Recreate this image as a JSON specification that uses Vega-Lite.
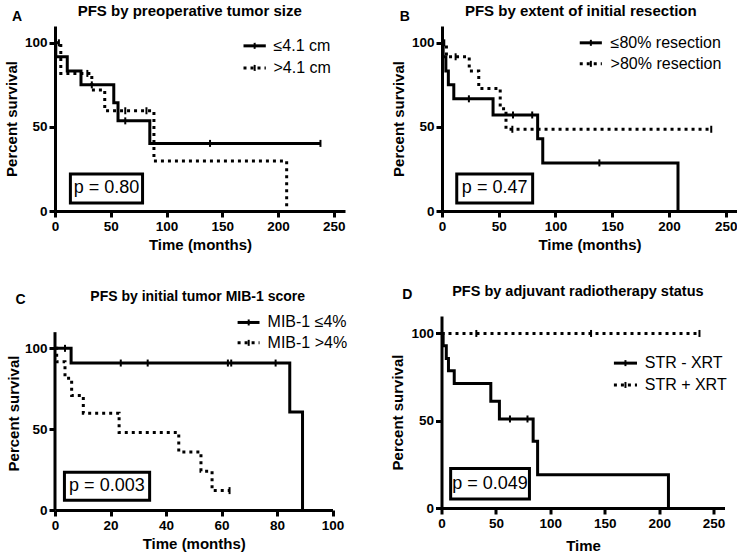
{
  "$schema": "https://vega.github.io/schema/vega-lite/v6.json",
  "padding": {"left": 4, "top": 3, "right": 0, "bottom": 0},
  "background": "white",
  "config": {
    "view": {"stroke": null},
    "axis": {"domainColor": "black", "domainWidth": 3, "tickColor": "black", "tickWidth": 3, "tickSize": 6, "labelFont": "Liberation Sans", "labelFontSize": 13.5, "labelFontWeight": "bold", "labelColor": "black", "labelPadding": 2, "titleFont": "Liberation Sans", "titleFontSize": 15, "titleFontWeight": "bold", "titleColor": "black", "titlePadding": 5, "grid": false, "labelFlush": false, "labelOverlap": false},
    "text": {"font": "Liberation Sans", "color": "black"}
  },
  "datasets": {
    "A_curves": [
      {"g": "≤4.1 cm", "t": 0, "s": 100}, {"g": "≤4.1 cm", "t": 0.7, "s": 91.7}, {"g": "≤4.1 cm", "t": 11, "s": 83.3}, {"g": "≤4.1 cm", "t": 23.3, "s": 75}, {"g": "≤4.1 cm", "t": 52.7, "s": 64.3}, {"g": "≤4.1 cm", "t": 56.5, "s": 53.6}, {"g": "≤4.1 cm", "t": 85, "s": 40.2}, {"g": "≤4.1 cm", "t": 238, "s": 40.2},
      {"g": ">4.1 cm", "t": 0, "s": 100}, {"g": ">4.1 cm", "t": 5.2, "s": 81.8}, {"g": ">4.1 cm", "t": 33, "s": 72}, {"g": ">4.1 cm", "t": 44.6, "s": 59.6}, {"g": ">4.1 cm", "t": 88.7, "s": 29.8}, {"g": ">4.1 cm", "t": 207.7, "s": 0}
    ],
    "A_cens": [
      {"g": "≤4.1 cm", "t": 33, "s": 75}, {"g": "≤4.1 cm", "t": 63, "s": 53.6}, {"g": "≤4.1 cm", "t": 139, "s": 40.2}, {"g": "≤4.1 cm", "t": 238, "s": 40.2},
      {"g": ">4.1 cm", "t": 3.5, "s": 100}, {"g": ">4.1 cm", "t": 29, "s": 81.8}, {"g": ">4.1 cm", "t": 63, "s": 59.6}, {"g": ">4.1 cm", "t": 82, "s": 59.6}
    ],
    "B_curves": [
      {"g": "≤80% resection", "t": 0, "s": 100}, {"g": "≤80% resection", "t": 1, "s": 91.7}, {"g": "≤80% resection", "t": 3.4, "s": 83.3}, {"g": "≤80% resection", "t": 5.6, "s": 75}, {"g": "≤80% resection", "t": 10.4, "s": 66.7}, {"g": "≤80% resection", "t": 45, "s": 57.1}, {"g": "≤80% resection", "t": 84.3, "s": 42.9}, {"g": "≤80% resection", "t": 88.8, "s": 28.6}, {"g": "≤80% resection", "t": 208, "s": 0},
      {"g": ">80% resection", "t": 0, "s": 100}, {"g": ">80% resection", "t": 3.9, "s": 91.7}, {"g": ">80% resection", "t": 24, "s": 83.3}, {"g": ">80% resection", "t": 32.4, "s": 72.9}, {"g": ">80% resection", "t": 51.3, "s": 60.8}, {"g": ">80% resection", "t": 56.4, "s": 48.6}, {"g": ">80% resection", "t": 237.3, "s": 48.6}
    ],
    "B_cens": [
      {"g": "≤80% resection", "t": 23.7, "s": 66.7}, {"g": "≤80% resection", "t": 62.6, "s": 57.1}, {"g": "≤80% resection", "t": 79.5, "s": 57.1}, {"g": "≤80% resection", "t": 138.7, "s": 28.6},
      {"g": ">80% resection", "t": 2, "s": 100}, {"g": ">80% resection", "t": 12, "s": 91.7}, {"g": ">80% resection", "t": 62, "s": 48.6}, {"g": ">80% resection", "t": 237.3, "s": 48.6}
    ],
    "C_curves": [
      {"g": "MIB-1 ≤4%", "t": 0, "s": 100}, {"g": "MIB-1 ≤4%", "t": 5.8, "s": 90.9}, {"g": "MIB-1 ≤4%", "t": 84.6, "s": 60.6}, {"g": "MIB-1 ≤4%", "t": 89.2, "s": 0},
      {"g": "MIB-1 >4%", "t": 0, "s": 100}, {"g": "MIB-1 >4%", "t": 0.6, "s": 91.7}, {"g": "MIB-1 >4%", "t": 3.6, "s": 81.5}, {"g": "MIB-1 >4%", "t": 6, "s": 70.8}, {"g": "MIB-1 >4%", "t": 10.2, "s": 59.9}, {"g": "MIB-1 >4%", "t": 23.1, "s": 47.9}, {"g": "MIB-1 >4%", "t": 44.6, "s": 35.9}, {"g": "MIB-1 >4%", "t": 52.6, "s": 24}, {"g": "MIB-1 >4%", "t": 56.6, "s": 12}, {"g": "MIB-1 >4%", "t": 62.9, "s": 12}
    ],
    "C_cens": [
      {"g": "MIB-1 ≤4%", "t": 3.6, "s": 100}, {"g": "MIB-1 ≤4%", "t": 23.7, "s": 90.9}, {"g": "MIB-1 ≤4%", "t": 33.4, "s": 90.9}, {"g": "MIB-1 ≤4%", "t": 62.3, "s": 90.9}, {"g": "MIB-1 ≤4%", "t": 63.5, "s": 90.9}, {"g": "MIB-1 ≤4%", "t": 79.5, "s": 90.9},
      {"g": "MIB-1 >4%", "t": 62.9, "s": 12}
    ],
    "D_curves": [
      {"g": "STR - XRT", "t": 0, "s": 100}, {"g": "STR - XRT", "t": 1.5, "s": 92.9}, {"g": "STR - XRT", "t": 4.4, "s": 85.7}, {"g": "STR - XRT", "t": 6.4, "s": 78.6}, {"g": "STR - XRT", "t": 11.7, "s": 71.4}, {"g": "STR - XRT", "t": 45.3, "s": 61.2}, {"g": "STR - XRT", "t": 53.2, "s": 51}, {"g": "STR - XRT", "t": 84.2, "s": 38.3}, {"g": "STR - XRT", "t": 88.3, "s": 19.1}, {"g": "STR - XRT", "t": 208.5, "s": 0},
      {"g": "STR + XRT", "t": 0, "s": 100}, {"g": "STR + XRT", "t": 237, "s": 100}
    ],
    "D_cens": [
      {"g": "STR - XRT", "t": 62.9, "s": 51}, {"g": "STR - XRT", "t": 79, "s": 51},
      {"g": "STR + XRT", "t": 32, "s": 100}, {"g": "STR + XRT", "t": 137.4, "s": 100}, {"g": "STR + XRT", "t": 237, "s": 100}
    ]
  },
  "spacing": 30,
  "vconcat": [
    {
      "spacing": 97,
      "bounds": "flush",
      "hconcat": [
        {
          "width": 290, "height": 185,
          "data": {"values": [{}]},
          "layer": [
            {"data": {"name": "A_curves"}, "transform": [{"filter": "datum.g == '≤4.1 cm'"}], "mark": {"type": "line", "interpolate": "step-after", "color": "black", "strokeWidth": 3},
             "encoding": {"x": {"field": "t", "type": "quantitative", "scale": {"domain": [0, 250]}, "axis": {"title": "Time (months)", "values": [0, 50, 100, 150, 200, 250]}}, "y": {"field": "s", "type": "quantitative", "scale": {"domain": [0, 110]}, "axis": {"title": "Percent survival", "values": [0, 50, 100]}}}},
            {"data": {"name": "A_curves"}, "transform": [{"filter": "datum.g == '>4.1 cm'"}], "mark": {"type": "line", "interpolate": "step-after", "color": "black", "strokeWidth": 3, "strokeDash": [3, 4]},
             "encoding": {"x": {"field": "t", "type": "quantitative"}, "y": {"field": "s", "type": "quantitative"}}},
            {"data": {"name": "A_cens"}, "mark": {"type": "tick", "orient": "vertical", "color": "black", "size": 7, "thickness": 2, "opacity": 1},
             "encoding": {"x": {"field": "t", "type": "quantitative"}, "y": {"field": "s", "type": "quantitative"}}},
            {"mark": {"type": "rule", "color": "black", "strokeWidth": 3}, "encoding": {"x": {"datum": 169}, "x2": {"datum": 189}, "y": {"datum": 98.2}}},
            {"mark": {"type": "rule", "color": "black", "strokeWidth": 3, "strokeDash": [3, 4]}, "encoding": {"x": {"datum": 169}, "x2": {"datum": 189}, "y": {"datum": 85.1}}},
            {"mark": {"type": "tick", "orient": "vertical", "color": "black", "size": 6, "thickness": 2, "opacity": 1}, "encoding": {"x": {"datum": 179}, "y": {"datum": 98.2}}},
            {"mark": {"type": "tick", "orient": "vertical", "color": "black", "size": 6, "thickness": 2, "opacity": 1}, "encoding": {"x": {"datum": 179}, "y": {"datum": 85.1}}},
            {"mark": {"type": "text", "text": "≤4.1 cm", "fontSize": 16, "align": "left", "baseline": "middle"}, "encoding": {"x": {"datum": 195.9}, "y": {"datum": 98.2}}},
            {"mark": {"type": "text", "text": ">4.1 cm", "fontSize": 16, "align": "left", "baseline": "middle"}, "encoding": {"x": {"datum": 195.9}, "y": {"datum": 85.1}}},
            {"mark": {"type": "rect", "fill": null, "fillOpacity": 0, "stroke": "black", "strokeWidth": 3}, "encoding": {"x": {"datum": 13.8}, "x2": {"datum": 78.5}, "y": {"datum": 4.8}, "y2": {"datum": 22}}},
            {"mark": {"type": "text", "text": "p = 0.80", "fontSize": 18, "align": "center", "baseline": "middle"}, "encoding": {"x": {"datum": 46.2}, "y": {"datum": 13.4}}},
            {"mark": {"type": "text", "text": "A", "fontSize": 14, "fontWeight": "bold", "align": "center", "baseline": "middle"}, "encoding": {"x": {"datum": -34.1}, "y": {"datum": 115.5}}},
            {"mark": {"type": "text", "text": "PFS by preoperative tumor size", "fontSize": 15, "fontWeight": "bold", "align": "center", "baseline": "middle"}, "encoding": {"x": {"datum": 120.8}, "y": {"datum": 119}}}
          ]
        },
        {
          "width": 295, "height": 185,
          "data": {"values": [{}]},
          "layer": [
            {"data": {"name": "B_curves"}, "transform": [{"filter": "datum.g == '≤80% resection'"}], "mark": {"type": "line", "interpolate": "step-after", "color": "black", "strokeWidth": 3},
             "encoding": {"x": {"field": "t", "type": "quantitative", "scale": {"domain": [0, 250]}, "axis": {"title": "Time (months)", "values": [0, 50, 100, 150, 200, 250]}}, "y": {"field": "s", "type": "quantitative", "scale": {"domain": [0, 110]}, "axis": {"title": "Percent survival", "values": [0, 50, 100]}}}},
            {"data": {"name": "B_curves"}, "transform": [{"filter": "datum.g == '>80% resection'"}], "mark": {"type": "line", "interpolate": "step-after", "color": "black", "strokeWidth": 3, "strokeDash": [3, 4]},
             "encoding": {"x": {"field": "t", "type": "quantitative"}, "y": {"field": "s", "type": "quantitative"}}},
            {"data": {"name": "B_cens"}, "mark": {"type": "tick", "orient": "vertical", "color": "black", "size": 7, "thickness": 2, "opacity": 1},
             "encoding": {"x": {"field": "t", "type": "quantitative"}, "y": {"field": "s", "type": "quantitative"}}},
            {"mark": {"type": "rule", "color": "black", "strokeWidth": 3}, "encoding": {"x": {"datum": 121.4}, "x2": {"datum": 140.9}, "y": {"datum": 100}}},
            {"mark": {"type": "rule", "color": "black", "strokeWidth": 3, "strokeDash": [3, 4]}, "encoding": {"x": {"datum": 121.4}, "x2": {"datum": 140.9}, "y": {"datum": 87.5}}},
            {"mark": {"type": "tick", "orient": "vertical", "color": "black", "size": 6, "thickness": 2, "opacity": 1}, "encoding": {"x": {"datum": 131.2}, "y": {"datum": 100}}},
            {"mark": {"type": "tick", "orient": "vertical", "color": "black", "size": 6, "thickness": 2, "opacity": 1}, "encoding": {"x": {"datum": 131.2}, "y": {"datum": 87.5}}},
            {"mark": {"type": "text", "text": "≤80% resection", "fontSize": 16, "align": "left", "baseline": "middle"}, "encoding": {"x": {"datum": 148.6}, "y": {"datum": 100}}},
            {"mark": {"type": "text", "text": ">80% resection", "fontSize": 16, "align": "left", "baseline": "middle"}, "encoding": {"x": {"datum": 148.6}, "y": {"datum": 87.5}}},
            {"mark": {"type": "rect", "fill": null, "fillOpacity": 0, "stroke": "black", "strokeWidth": 3}, "encoding": {"x": {"datum": 13}, "x2": {"datum": 79.9}, "y": {"datum": 4.8}, "y2": {"datum": 22}}},
            {"mark": {"type": "text", "text": "p = 0.47", "fontSize": 18, "align": "center", "baseline": "middle"}, "encoding": {"x": {"datum": 46.4}, "y": {"datum": 13.4}}},
            {"mark": {"type": "text", "text": "B", "fontSize": 14, "fontWeight": "bold", "align": "center", "baseline": "middle"}, "encoding": {"x": {"datum": -32.8}, "y": {"datum": 115.2}}},
            {"mark": {"type": "text", "text": "PFS by extent of initial resection", "fontSize": 15, "fontWeight": "bold", "align": "center", "baseline": "middle"}, "encoding": {"x": {"datum": 122.3}, "y": {"datum": 119}}}
          ]
        }
      ]
    },
    {
      "spacing": 108.5,
      "bounds": "flush",
      "hconcat": [
        {
          "width": 277.5, "height": 194,
          "data": {"values": [{}]},
          "layer": [
            {"data": {"name": "C_curves"}, "transform": [{"filter": "datum.g == 'MIB-1 ≤4%'"}], "mark": {"type": "line", "interpolate": "step-after", "color": "black", "strokeWidth": 3},
             "encoding": {"x": {"field": "t", "type": "quantitative", "scale": {"domain": [0, 100]}, "axis": {"title": "Time (months)", "values": [0, 20, 40, 60, 80, 100]}}, "y": {"field": "s", "type": "quantitative", "scale": {"domain": [0, 116]}, "axis": {"title": "Percent survival", "titlePadding": 3, "values": [0, 50, 100], "domain": false}}}},
            {"data": {"name": "C_curves"}, "transform": [{"filter": "datum.g == 'MIB-1 >4%'"}], "mark": {"type": "line", "interpolate": "step-after", "color": "black", "strokeWidth": 3, "strokeDash": [3, 4]},
             "encoding": {"x": {"field": "t", "type": "quantitative"}, "y": {"field": "s", "type": "quantitative"}}},
            {"data": {"name": "C_cens"}, "mark": {"type": "tick", "orient": "vertical", "color": "black", "size": 7, "thickness": 2, "opacity": 1},
             "encoding": {"x": {"field": "t", "type": "quantitative"}, "y": {"field": "s", "type": "quantitative"}}},
            {"mark": {"type": "rule", "color": "black", "strokeWidth": 3}, "encoding": {"x": {"datum": 0}, "y": {"datum": 0}, "y2": {"datum": 110}}},
            {"mark": {"type": "rule", "color": "black", "strokeWidth": 3}, "encoding": {"x": {"datum": 65.8}, "x2": {"datum": 73.7}, "y": {"datum": 116}}},
            {"mark": {"type": "rule", "color": "black", "strokeWidth": 3, "strokeDash": [3, 4]}, "encoding": {"x": {"datum": 65.8}, "x2": {"datum": 73.7}, "y": {"datum": 103.4}}},
            {"mark": {"type": "tick", "orient": "vertical", "color": "black", "size": 6, "thickness": 2, "opacity": 1}, "encoding": {"x": {"datum": 69.8}, "y": {"datum": 116}}},
            {"mark": {"type": "tick", "orient": "vertical", "color": "black", "size": 6, "thickness": 2, "opacity": 1}, "encoding": {"x": {"datum": 69.8}, "y": {"datum": 103.4}}},
            {"mark": {"type": "text", "text": "MIB-1 ≤4%", "fontSize": 16, "align": "left", "baseline": "middle"}, "encoding": {"x": {"datum": 76.6}, "y": {"datum": 116}}},
            {"mark": {"type": "text", "text": "MIB-1 >4%", "fontSize": 16, "align": "left", "baseline": "middle"}, "encoding": {"x": {"datum": 76.6}, "y": {"datum": 103.4}}},
            {"mark": {"type": "rect", "fill": null, "fillOpacity": 0, "stroke": "black", "strokeWidth": 3}, "encoding": {"x": {"datum": 3.4}, "x2": {"datum": 34.1}, "y": {"datum": 6}, "y2": {"datum": 23.3}}},
            {"mark": {"type": "text", "text": "p = 0.003", "fontSize": 18, "align": "center", "baseline": "middle"}, "encoding": {"x": {"datum": 18.7}, "y": {"datum": 14.6}}},
            {"mark": {"type": "text", "text": "C", "fontSize": 14, "fontWeight": "bold", "align": "center", "baseline": "middle"}, "encoding": {"x": {"datum": -12.4}, "y": {"datum": 130}}},
            {"mark": {"type": "text", "text": "PFS by initial tumor MIB-1 score", "fontSize": 14, "fontWeight": "bold", "align": "center", "baseline": "middle"}, "encoding": {"x": {"datum": 51.4}, "y": {"datum": 131.5}}}
          ]
        },
        {
          "width": 283, "height": 192,
          "data": {"values": [{}]},
          "layer": [
            {"data": {"name": "D_curves"}, "transform": [{"filter": "datum.g == 'STR - XRT'"}], "mark": {"type": "line", "interpolate": "step-after", "color": "black", "strokeWidth": 3},
             "encoding": {"x": {"field": "t", "type": "quantitative", "scale": {"domain": [0, 250]}, "axis": {"title": "Time", "titlePadding": 9, "values": [0, 50, 100, 150, 200, 250]}}, "y": {"field": "s", "type": "quantitative", "scale": {"domain": [0, 109]}, "axis": {"title": "Percent survival", "values": [0, 50, 100]}}}},
            {"data": {"name": "D_curves"}, "transform": [{"filter": "datum.g == 'STR + XRT'"}], "mark": {"type": "line", "interpolate": "step-after", "color": "black", "strokeWidth": 3, "strokeDash": [3, 4]},
             "encoding": {"x": {"field": "t", "type": "quantitative"}, "y": {"field": "s", "type": "quantitative"}}},
            {"data": {"name": "D_cens"}, "mark": {"type": "tick", "orient": "vertical", "color": "black", "size": 7, "thickness": 2, "opacity": 1},
             "encoding": {"x": {"field": "t", "type": "quantitative"}, "y": {"field": "s", "type": "quantitative"}}},
            {"mark": {"type": "rule", "color": "black", "strokeWidth": 3}, "encoding": {"x": {"datum": 158.4}, "x2": {"datum": 179.6}, "y": {"datum": 83}}},
            {"mark": {"type": "rule", "color": "black", "strokeWidth": 3, "strokeDash": [3, 4]}, "encoding": {"x": {"datum": 158.4}, "x2": {"datum": 179.6}, "y": {"datum": 70.5}}},
            {"mark": {"type": "tick", "orient": "vertical", "color": "black", "size": 6, "thickness": 2, "opacity": 1}, "encoding": {"x": {"datum": 169}, "y": {"datum": 83}}},
            {"mark": {"type": "tick", "orient": "vertical", "color": "black", "size": 6, "thickness": 2, "opacity": 1}, "encoding": {"x": {"datum": 169}, "y": {"datum": 70.5}}},
            {"mark": {"type": "text", "text": "STR - XRT", "fontSize": 16, "align": "left", "baseline": "middle"}, "encoding": {"x": {"datum": 186.7}, "y": {"datum": 83}}},
            {"mark": {"type": "text", "text": "STR + XRT", "fontSize": 16, "align": "left", "baseline": "middle"}, "encoding": {"x": {"datum": 186.7}, "y": {"datum": 70.5}}},
            {"mark": {"type": "rect", "fill": null, "fillOpacity": 0, "stroke": "black", "strokeWidth": 3}, "encoding": {"x": {"datum": 8.4}, "x2": {"datum": 80.8}, "y": {"datum": 5.1}, "y2": {"datum": 22.7}}},
            {"mark": {"type": "text", "text": "p = 0.049", "fontSize": 18, "align": "center", "baseline": "middle"}, "encoding": {"x": {"datum": 44.6}, "y": {"datum": 13.9}}},
            {"mark": {"type": "text", "text": "D", "fontSize": 14, "fontWeight": "bold", "align": "center", "baseline": "middle"}, "encoding": {"x": {"datum": -31.3}, "y": {"datum": 122.2}}},
            {"mark": {"type": "text", "text": "PFS by adjuvant radiotherapy status", "fontSize": 14.5, "fontWeight": "bold", "align": "center", "baseline": "middle"}, "encoding": {"x": {"datum": 125.3}, "y": {"datum": 123.9}}}
          ]
        }
      ]
    }
  ]
}
